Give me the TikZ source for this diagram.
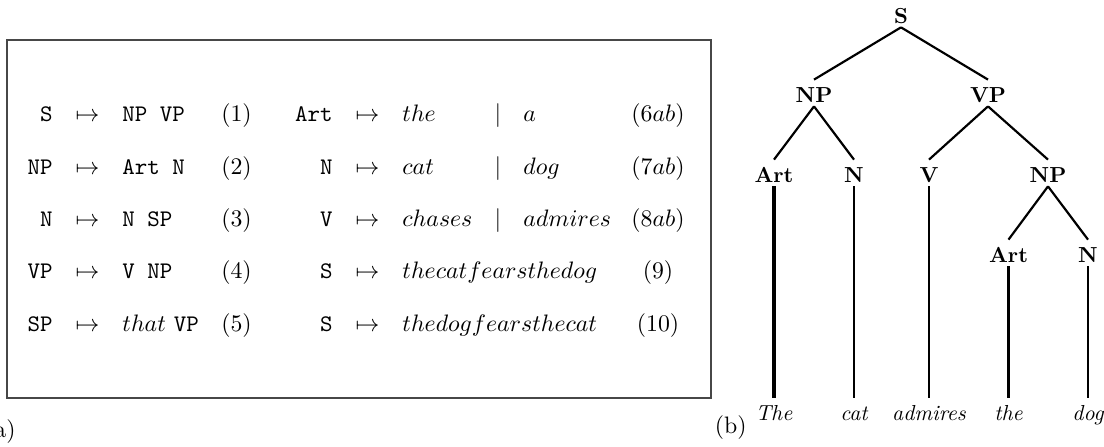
\documentclass[tikz,border=0pt]{standalone}
\usepackage{fontspec}
\begin{document}
\begin{tikzpicture}[x=0.46pt,y=-0.46pt,
  every node/.style={inner sep=0pt},
  bx/.style={font=\fontsize{10.95}{13}\selectfont},
  lhs/.style={anchor=base east,font=\fontsize{10.95}{13}\selectfont\ttfamily},
  rhs/.style={bx,anchor=base west},
  mid/.style={bx,anchor=base},
  frame/.style={draw=black!72,line width=0.75pt},
  tl/.style={anchor=base,font=\fontsize{10}{12}\selectfont\bfseries,inner xsep=0pt,inner ysep=1.8pt,text height=8.3pt,text depth=0pt},
  lf/.style={anchor=base,font=\fontsize{10}{12}\selectfont\itshape,inner xsep=0pt,inner ysep=1.8pt,text height=8.3pt,text depth=0pt},
  edge/.style={line width=1pt},
  thick edge/.style={line width=1.6pt}]
\useasboundingbox (0,0) rectangle (1104,446);
% ---------- (a) grammar box ----------
\draw[frame] (7,40) rectangle (711,398);
% row 1
\node[lhs] (l1) at (53,121) {S};
\node[mid] (m1) at (87.5,121) {$\mapsto$};
\node[rhs] (r1) at (122,121) {\texttt{NP VP}};
\node[mid] (n1) at (236.5,121) {(1)};
\node[lhs] (L1) at (333,121) {Art};
\node[mid] (M1) at (367.5,121) {$\mapsto$};
\node[rhs] (A1) at (402,121) {$the$};
\node[mid] (B1) at (498,121) {$|$};
\node[rhs] (C1) at (523,121) {$a$};
\node[mid] (N1) at (658,121) {(6$ab$)};
% row 2
\node[lhs] (l2) at (53,174) {NP};
\node[mid] (m2) at (87.5,174) {$\mapsto$};
\node[rhs] (r2) at (122,174) {\texttt{Art N}};
\node[mid] (n2) at (236.5,174) {(2)};
\node[lhs] (L2) at (333,174) {N};
\node[mid] (M2) at (367.5,174) {$\mapsto$};
\node[rhs] (A2) at (402,174) {$cat$};
\node[mid] (B2) at (498,174) {$|$};
\node[rhs] (C2) at (523,174) {$dog$};
\node[mid] (N2x) at (658,174) {(7$ab$)};
% row 3
\node[lhs] (l3) at (53,226) {N};
\node[mid] (m3) at (87.5,226) {$\mapsto$};
\node[rhs] (r3) at (122,226) {\texttt{N SP}};
\node[mid] (n3) at (236.5,226) {(3)};
\node[lhs] (L3) at (333,226) {V};
\node[mid] (M3) at (367.5,226) {$\mapsto$};
\node[rhs] (A3) at (402,226) {$chases$};
\node[mid] (B3) at (498,226) {$|$};
\node[rhs] (C3) at (523,226) {$admires$};
\node[mid] (N3) at (658,226) {(8$ab$)};
% row 4
\node[lhs] (l4) at (53,278) {VP};
\node[mid] (m4) at (87.5,278) {$\mapsto$};
\node[rhs] (r4) at (122,278) {\texttt{V NP}};
\node[mid] (n4) at (236.5,278) {(4)};
\node[lhs] (L4) at (333,278) {S};
\node[mid] (M4) at (367.5,278) {$\mapsto$};
\node[rhs] (A4) at (402,278) {$thecatfearsthedog$};
\node[mid] (N4) at (658,278) {(9)};
% row 5
\node[lhs] (l5) at (53,331) {SP};
\node[mid] (m5) at (87.5,331) {$\mapsto$};
\node[rhs] (r5) at (122,331) {$that$ \texttt{VP}};
\node[mid] (n5) at (236.5,331) {(5)};
\node[lhs] (L5) at (333,331) {S};
\node[mid] (M5) at (367.5,331) {$\mapsto$};
\node[rhs] (A5) at (402,331) {$thedogfearsthecat$};
\node[mid] (N5) at (658,331) {(10)};
% labels
\node[bx,anchor=base east] (la) at (16,437) {(a)};
\node[bx,anchor=base east] (lb) at (747,433) {(b)};
% ---------- (b) tree ----------
\node[tl] (S)   at (901,23)  {S};
\node[tl] (NP1) at (814,102) {NP};
\node[tl] (VP)  at (988,102) {VP};
\node[tl] (Art1) at (774,182) {Art};
\node[tl] (N1t) at (854,182) {N};
\node[tl] (V)   at (929,182) {V};
\node[tl] (NP2) at (1048,182) {NP};
\node[tl] (Art2) at (1008.5,262) {Art};
\node[tl] (N2t) at (1088,262) {N};
\node[lf] (w1) at (774,420) {The};
\node[lf] (w2) at (854,420) {cat};
\node[lf] (w3) at (929,420) {admires};
\node[lf] (w4) at (1008.5,420) {the};
\node[lf] (w5) at (1088,420) {dog};
\draw[edge] (S.south) -- (NP1.north);
\draw[edge] (S.south) -- (VP.north);
\draw[edge] (NP1.south) -- (Art1.north);
\draw[edge] (NP1.south) -- (N1t.north);
\draw[edge] (VP.south) -- (V.north);
\draw[edge] (VP.south) -- (NP2.north);
\draw[edge] (NP2.south) -- (Art2.north);
\draw[edge] (NP2.south) -- (N2t.north);
\draw[thick edge] (Art1.south) -- (w1.north);
\draw[edge] (N1t.south) -- (w2.north);
\draw[edge] (V.south) -- (w3.north);
\draw[edge] (Art2.south) -- (w4.north);
\draw[edge] (N2t.south) -- (w5.north);
\end{tikzpicture}
\end{document}
